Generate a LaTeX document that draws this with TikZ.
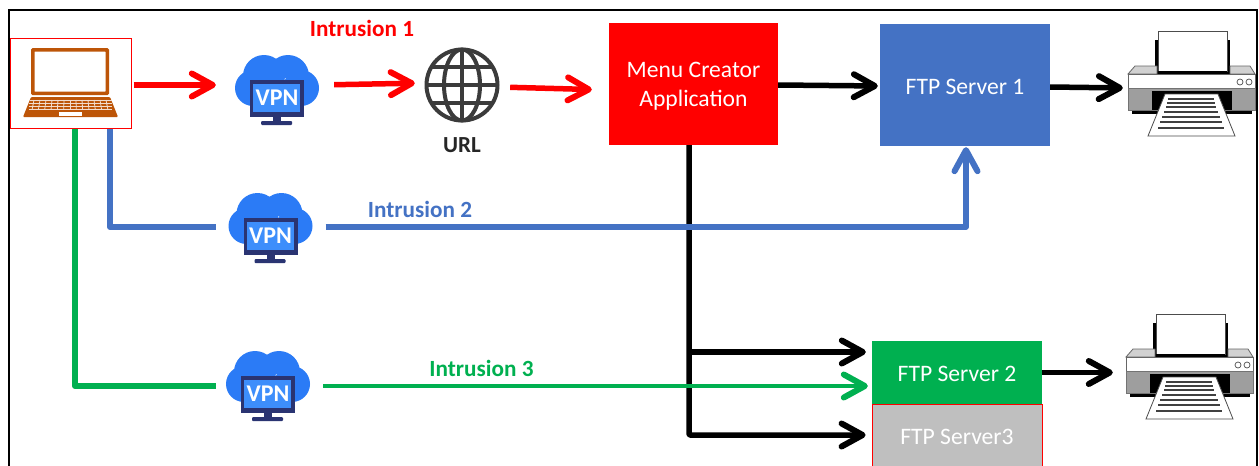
\documentclass[tikz,border=0pt]{standalone}
\usepackage{fontspec}
\setmainfont{Carlito}
\usetikzlibrary{arrows.meta,calc}
\definecolor{fblue}{HTML}{4472C4}
\definecolor{fgreen}{HTML}{00B050}
\definecolor{fgray}{HTML}{BFBFBF}
\definecolor{lapc}{HTML}{BD5508}
\definecolor{cloudc}{HTML}{2B7BF6}
\definecolor{screenc}{HTML}{3D8EFB}
\definecolor{monc}{HTML}{2A3472}
\definecolor{globec}{HTML}{3B3B3B}
\newcommand{\shiftedtext}[2]{\raisebox{#1}[\height][\depth]{#2}}
\tikzset{
  tip/.style={-{Straight Barb[length=21pt,width=23pt,line width=6pt,round]}},
  conn/.style={tip,line width=5.5pt,line join=round},
  serverbox/.style={rectangle,inner sep=0pt,text=white,align=center,font=\fontsize{23.6}{28}\selectfont},
  vpnlabel/.style={inner sep=0pt,minimum width=84pt,minimum height=20pt,text=white,font=\fontsize{24}{24}\selectfont\bfseries},
  intrusion/.style={inner sep=0pt,font=\fontsize{23.2}{23}\selectfont\bfseries},
  vpnicon/.pic={
    \fill[cloudc] (-24,-2) circle (18) (24,-2) circle (18) (-13,-14) circle (21) (11,-14) circle (21) (-24,-12) rectangle (24,16);
    \fill[monc] (-27,-10) rectangle (27,27);
    \fill[screenc] (-24,-6) rectangle (23,22);
    \fill[monc] (-4,27) rectangle (4,33);
    \fill[monc,rounded corners=1pt] (-16,31) rectangle (15,35);
  },
  globeicon/.pic={
    \begin{scope}[globec,line width=4pt]
    \draw (0,0) circle (35.5);
    \draw (0,0) ellipse (18 and 35.5);
    \draw (0,-35.5) -- (0,35.5) (-35.5,0) -- (35.5,0) (-30.5,-18) -- (30.5,-18) (-30.5,18) -- (30.5,18);
    \end{scope}
  },
  lapicon/.pic={
    \fill[lapc,rounded corners=1.5pt] (-39,-37) rectangle (39,10);
    \fill[white,rounded corners=0.5pt] (-35.5,-33.5) rectangle (35.5,6.5);
    \fill[lapc,rounded corners=1pt] (-39,12) -- (40,12) -- (48,32) -- (-47,32) -- cycle;
    \foreach \x in {-36,-30,...,36} \draw[white!80!lapc,line width=.8pt] (\x,15) -- (\x*1.05,24);
    \foreach \y in {15,18,21,24} \draw[white!80!lapc,line width=.8pt] (-39-\y/10,\y) -- (40+\y/10,\y);
    \fill[white] (-11,27) rectangle (12,31);
  },
  printicon/.pic={
    \fill[black] (-36,-44) rectangle (39,-10);
    \fill[white] (-33,-53) rectangle (36,-12);
    \draw[black!70,line width=.8pt] (-33,-12) -- (-33,-53) -- (36,-53) -- (36,-12);
    \draw[black,line width=1.5pt] (-33,-12) -- (36,-12);
    \fill[black] (-59,24) rectangle (61,30);
    \filldraw[fill=black!18,draw=black!60,line width=.8pt] (-63,-10) -- (-56,-18) -- (-34,-18) -- (-34,-10) -- cycle;
    \filldraw[fill=black!18,draw=black!60,line width=.8pt] (39,-18) -- (59,-18) -- (64,-10) -- (39,-10) -- cycle;
    \filldraw[fill=white,draw=black!60,line width=.8pt] (-63,-10) rectangle (64,4);
    \filldraw[fill=black!38,draw=black!55,line width=.8pt] (-63,4) rectangle (64,26);
    \fill[black] (-39,7) rectangle (41,26);
    \draw[black!70,line width=.8pt,fill=white] (-26,10) -- (27,10) -- (44,52) -- (-43,52) -- cycle;
    \foreach \y/\a in {15/23,19/24,23/25,28/27,33/29,38/31,44/33}
      \draw[black!75,line width=1.3pt] (-\a,\y) -- (\a,\y);
    \draw[black!70,line width=.7pt] (49,-2) circle (3) (58,-2) circle (3);
  }
}
\begin{document}
\begin{tikzpicture}[x=1pt,y=-1pt]
\path[clip] (0,0) rectangle (1259,466);
\fill[white] (0,0) rectangle (1259,466);
\draw[black,line width=2pt] (9,480) -- (9,10) -- (1257,10) -- (1257,480);

% icons and boxes
\node[draw=red,fill=white,line width=1pt,minimum width=121pt,minimum height=90pt,inner sep=0pt] (laptop) at (70.5,83) {};
\pic at (70,85) {lapicon};

\pic at (277,90) {vpnicon};
\node[vpnlabel] (vpn1) at (277,98) {VPN};
\pic at (270.5,228) {vpnicon};
\node[vpnlabel] (vpn2) at (270.5,236) {VPN};
\pic at (268,386) {vpnicon};
\node[vpnlabel] (vpn3) at (268,394) {VPN};

\pic at (462,85) {globeicon};
\node[minimum width=74pt,minimum height=74pt,inner sep=0pt] (globe) at (462,85) {};
\node[inner sep=0pt,font=\fontsize{23}{23}\selectfont\bfseries,text=black!85] (urltext) at (462,145) {URL};

\node[serverbox,fill=red,minimum width=169pt,minimum height=122pt] (menu) at (693.5,84) {\shiftedtext{-2pt}{Menu Creator}\\\shiftedtext{-2.5pt}{Application}};
\node[serverbox,fill=fblue,minimum width=170pt,minimum height=122pt] (ftp1) at (965,85) {\shiftedtext{-2pt}{FTP Server 1}};
\node[serverbox,fill=fgreen,minimum width=170pt,minimum height=63pt] (ftp2) at (957,372.5) {\shiftedtext{-1pt}{FTP Server 2}};
\node[serverbox,draw=red,line width=.8pt,fill=fgray,minimum width=170pt,minimum height=70pt] (ftp3) at (957,439) {\shiftedtext{2pt}{FTP Server3}};

\pic at (1191,84) {printicon};
\node[minimum width=127pt,minimum height=105pt,inner sep=0pt] (printer1) at (1191.5,84) {};
\pic at (1189,367) {printicon};
\node[minimum width=127pt,minimum height=105pt,inner sep=0pt] (printer2) at (1189.5,367) {};

% labels
\node[intrusion,text=red] (i1) at (362,28) {Intrusion 1};
\node[intrusion,text=fblue] (i2) at (420,209) {Intrusion 2};
\node[intrusion,text=fgreen] (i3) at (481.5,368) {Intrusion 3};

% red path
\draw[conn,red,shorten <=2pt,shorten >=19pt] (laptop.east |- 0,85) -- (vpn1.west |- 0,85);
\draw[conn,red,shorten <=15pt,shorten >=10pt] (vpn1.east |- 0,85) -- (globe.west |- 0,83);
\draw[conn,red,shorten <=11pt,shorten >=17pt] (globe.east |- 0,87) -- (menu.west |- 0,90);

% black paths
\draw[conn,black,shorten >=2pt] (menu.east |- 0,85) -- (ftp1.west |- 0,86);
\draw[conn,black,shorten >=5pt] (ftp1.east |- 0,87) -- (printer1.west |- 0,88);
\draw[conn,black,shorten >=13pt] (ftp2.east) -- (printer2.west |- ftp2.east);
\coordinate (trunk) at ([xshift=-4.5pt]menu.south);
\coordinate (bend) at (trunk |- 0,435);
\coordinate (branch) at (trunk |- 0,352);
\draw[conn,black,shorten >=6pt,rounded corners=1pt] (trunk) -- (bend) -- (ftp3.west |- bend);
\draw[conn,black,shorten >=6pt] (branch) -- (ftp2.west |- branch);

% blue path
\draw[line width=6pt,fblue,line join=round,shorten >=12.5pt] ([xshift=39.5pt]laptop.south) -- ([xshift=39.5pt]laptop.south |- 0,227) -- (vpn2.west |- 0,227);
\draw[conn,fblue,shorten <=13pt,shorten >=1pt] (vpn2.east |- 0,227) -- ([xshift=1pt]ftp1.south |- 0,227) -- ([xshift=1pt]ftp1.south);

% green path
\draw[line width=6pt,fgreen,line join=round,shorten >=10pt] ([xshift=4.5pt]laptop.south) -- ([xshift=4.5pt]laptop.south |- 0,386) -- (vpn3.west |- 0,386);
\draw[conn,line width=4.5pt,fgreen,shorten <=13pt,shorten >=4pt] (vpn3.east |- 0,386) -- (ftp2.west |- 0,386);
\end{tikzpicture}
\end{document}
